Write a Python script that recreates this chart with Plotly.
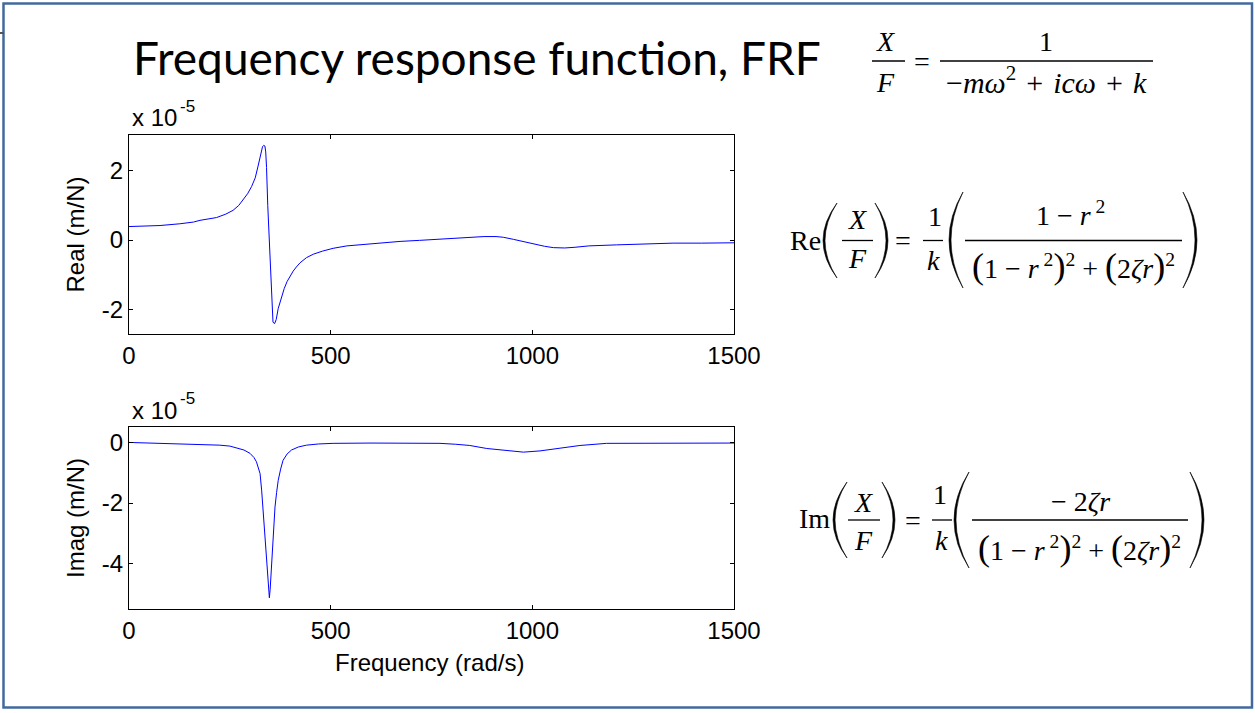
import plotly.graph_objects as go

# ---------------- data (values in units of 1e-5 m/N) -------------
freq_real = [0, 40, 77, 126, 160, 176, 200, 217, 240, 258, 272, 283, 294, 304, 313, 320,
             326, 331, 334, 337, 339, 341, 344, 348, 351, 354, 357, 361, 365, 370, 375,
             379, 385, 392, 400, 407, 415, 424, 440, 457, 480, 506, 540, 589, 640, 672,
             720, 771, 837, 880, 910, 928, 953, 980, 1002, 1030, 1052, 1080, 1106, 1140,
             1209, 1280, 1349, 1420, 1500]
real_vals = [0.39, 0.40, 0.42, 0.47, 0.52, 0.57, 0.62, 0.65, 0.75, 0.86, 1.00, 1.16, 1.34,
             1.55, 1.80, 2.14, 2.45, 2.70, 2.74, 2.72, 2.55, 2.10, 1.00, 0.00, -0.80,
             -1.60, -2.38, -2.42, -2.30, -1.98, -1.78, -1.60, -1.40, -1.20, -1.03, -0.90,
             -0.78, -0.66, -0.51, -0.41, -0.32, -0.24, -0.17, -0.12, -0.07, -0.04, -0.01,
             0.03, 0.08, 0.10, 0.10, 0.08, 0.02, -0.05, -0.12, -0.18, -0.22, -0.23, -0.21,
             -0.17, -0.14, -0.11, -0.09, -0.09, -0.08]

freq_imag = [0, 85, 160, 225, 250, 270, 285, 300, 310, 316, 321, 325, 329, 333, 336, 339,
             342, 344, 346, 348, 350, 352, 354, 356, 359, 362, 366, 370, 376, 382, 392,
             403, 420, 440, 470, 506, 600, 700, 771, 810, 845, 887, 920, 945, 978, 1019,
             1060, 1118, 1184, 1300, 1400, 1500]
imag_vals = [0.0, -0.03, -0.05, -0.09, -0.12, -0.18, -0.25, -0.36, -0.50, -0.64, -0.85,
             -1.03, -1.60, -2.35, -3.00, -3.67, -4.20, -4.55, -4.90, -5.13, -4.85, -4.33,
             -3.80, -3.23, -2.65, -2.13, -1.65, -1.25, -0.88, -0.59, -0.38, -0.25, -0.15,
             -0.09, -0.05, -0.03, -0.02, -0.02, -0.03, -0.06, -0.10, -0.20, -0.25, -0.29,
             -0.32, -0.28, -0.20, -0.10, -0.03, -0.02, -0.02, -0.02]

x_ticks = [0, 500, 1000, 1500]
x_tick_labels = ["0", "500", "1000", "1500"]
real_ticks = [-2, 0, 2]
real_tick_labels = ["-2", "0", "2"]
imag_ticks = [-4, -2, 0]
imag_tick_labels = ["-4", "-2", "0"]

# ---------------- helpers (pixel -> paper) ----------------
W, H = 1255, 713


def PX(x):
    return x / W


def PY(y):
    return 1 - y / H


SANS = "Liberation Sans"
SERIF = "Liberation Serif"

fig = go.Figure()
fig.add_trace(go.Scatter(x=freq_real, y=real_vals, mode="lines",
                         line=dict(color="rgb(0,0,255)", width=1),
                         xaxis="x", yaxis="y", showlegend=False))
fig.add_trace(go.Scatter(x=freq_imag, y=imag_vals, mode="lines",
                         line=dict(color="rgb(0,0,255)", width=1),
                         xaxis="x2", yaxis="y2", showlegend=False))

axis_common = dict(showline=True, linecolor="black", linewidth=1, mirror="ticks",
                   ticks="inside", ticklen=4, tickcolor="black", tickwidth=1,
                   showgrid=False, zeroline=False, automargin=False,
                   tickfont=dict(family=SANS, size=24, color="black"))

x_dom = [PX(129), PX(734)]
fig.update_layout(
    width=W, height=H, autosize=False,
    margin=dict(l=0, r=0, t=0, b=0, pad=0, autoexpand=False),
    paper_bgcolor="white", plot_bgcolor="white",
    font=dict(family=SANS, color="black"),
    showlegend=False,
    xaxis=dict(domain=x_dom, range=[0, 1500], anchor="y",
               tickvals=x_ticks, ticktext=x_tick_labels, **axis_common),
    yaxis=dict(domain=[PY(334), PY(135)], range=[-2.72, 3.04], anchor="x",
               tickvals=real_ticks, ticktext=real_tick_labels, **axis_common),
    xaxis2=dict(domain=x_dom, range=[0, 1500], anchor="y2",
                tickvals=x_ticks, ticktext=x_tick_labels, **axis_common),
    yaxis2=dict(domain=[PY(609), PY(427.3)], range=[-5.5, 0.5], anchor="x2",
                tickvals=imag_ticks, ticktext=imag_tick_labels, **axis_common),
)

anns = []
shapes = []


def ann(text, x, y, size, family=SERIF, xanchor="center", yanchor="middle", angle=0):
    anns.append(dict(text=text, x=PX(x), y=PY(y), xref="paper", yref="paper",
                     showarrow=False, xanchor=xanchor, yanchor=yanchor, textangle=angle,
                     font=dict(family=family, size=size, color="black")))


def bar(x0, x1, y, w=1.3):
    shapes.append(dict(type="line", xref="paper", yref="paper",
                       x0=PX(x0), x1=PX(x1), y0=PY(y), y1=PY(y),
                       line=dict(color="black", width=w)))


def paren(xl, xr, yt, yb, left=True, w=2.0):
    ym = (yt + yb) / 2
    if left:
        end, co, ci = xr, 2 * xl - xr, 2 * (xl + w) - xr
    else:
        end, co, ci = xl, 2 * xr - xl, 2 * (xr - w) - xl
    p = (f"M {PX(end)},{PY(yt)} Q {PX(co)},{PY(ym)} {PX(end)},{PY(yb)} "
         f"Q {PX(ci)},{PY(ym)} {PX(end)},{PY(yt)} Z")
    shapes.append(dict(type="path", xref="paper", yref="paper", path=p,
                       fillcolor="black", line=dict(color="black", width=0.6)))


# slide frame
shapes.append(dict(type="rect", xref="paper", yref="paper",
                   x0=PX(3.5), x1=PX(1252), y0=PY(3.5), y1=PY(707.5),
                   line=dict(color="#41699F", width=2.5)))
shapes.append(dict(type="line", xref="paper", yref="paper",
                   x0=PX(0), x1=PX(4), y0=PY(33), y1=PY(33),
                   line=dict(color="#555555", width=2)))

# title
ann("Frequency response function, FRF", 131, 57, 46, family="Lato", xanchor="left")

# exponent labels
ann("x 10", 130, 118, 24, family=SANS, xanchor="left")
ann("-5", 178, 106, 17, family=SANS, xanchor="left")
ann("x 10", 130, 410, 24, family=SANS, xanchor="left")
ann("-5", 178, 398, 17, family=SANS, xanchor="left")

# axis titles
ann("Real (m/N)", 75, 234.5, 24, family=SANS, angle=-90)
ann("Imag (m/N)", 75, 518, 24, family=SANS, angle=-90)
ann("Frequency (rad/s)", 430, 662, 24, family=SANS)

SP = "\u2004"
BIGL = '<span style="font-size:36px">(</span>'
BIGR = '<span style="font-size:36px">)</span>'
DEN = (f"{BIGL}1 − <i>r</i><sup> 2</sup>{BIGR}<sup>2</sup> + "
       f"{BIGL}2<i>ζr</i>{BIGR}<sup>2</sup>")

# equation 1
ann("<i>X</i>", 885, 41, 28)
bar(872, 905, 61)
ann("<i>F</i>", 885, 82, 28)
ann("=", 922, 61, 28)
ann("1", 1046, 41, 28)
bar(940, 1153, 61)
ann(f"−<i>mω</i><sup>2</sup>{SP}+{SP}<i>icω</i>{SP}+{SP}<i>k</i>", 1046, 80, 30)

# equation 2 (real part)
ann("Re", 805, 240, 28)
paren(823, 837, 203, 278, left=True)
ann("<i>X</i>", 857, 219, 28)
bar(842, 873, 240.5)
ann("<i>F</i>", 857, 258, 28)
paren(875, 888, 203, 278, left=False)
ann("=", 903, 240, 28)
ann("1", 935, 216, 28)
bar(923, 943, 240.5)
ann("<i>k</i>", 933, 260, 28)
paren(949, 963, 192, 288, left=True)
ann("1 − <i>r</i><sup> 2</sup>", 1070, 214, 28)
bar(965, 1182, 240.5)
ann(DEN, 1073, 266, 28)
paren(1183, 1197, 192, 288, left=False)

# equation 3 (imaginary part)
ann("Im", 814, 518, 28)
paren(833, 847, 482, 558, left=True)
ann("<i>X</i>", 863, 503, 28)
bar(848, 880, 520)
ann("<i>F</i>", 863, 540, 28)
paren(882, 895, 482, 558, left=False)
ann("=", 913, 520, 28)
ann("1", 940, 495, 28)
bar(932, 952, 520)
ann("<i>k</i>", 941, 540, 28)
paren(954, 969, 472, 568, left=True)
ann("− 2<i>ζr</i>", 1080, 501, 28)
bar(972, 1188, 520)
ann(DEN, 1079, 548, 28)
paren(1190, 1204, 472, 568, left=False)

fig.update_layout(annotations=anns, shapes=shapes)

fig.write_html("out.html", config={"displayModeBar": False},
               post_script="document.body.style.margin='0';document.body.style.overflow='hidden';")
